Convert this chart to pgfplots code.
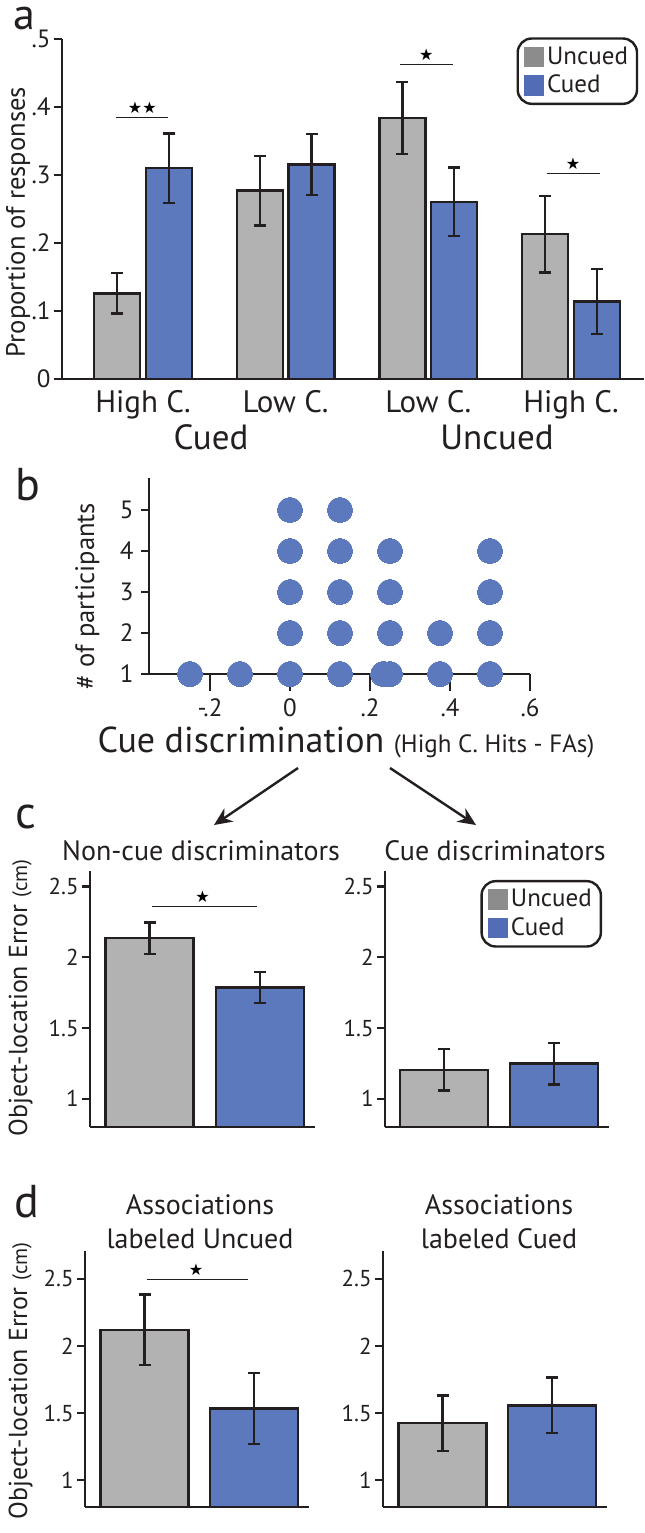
\documentclass[border=0pt]{standalone}
\usepackage{fontspec}
\setmainfont{PT Sans}
\newfontfamily\symfont{DejaVu Sans}
\usepackage{pgfplots}
\pgfplotsset{compat=1.18}
\usetikzlibrary{arrows.meta}

\definecolor{cgray}{RGB}{178,178,178}
\definecolor{cblue}{RGB}{93,121,189}
\definecolor{lgray}{RGB}{140,140,140}
\definecolor{lblue}{RGB}{82,108,181}
\definecolor{cdark}{RGB}{35,31,32}

\newcommand{\fs}[2]{\fontsize{#1}{#2}\selectfont}
\newcommand{\st}[1]{{\symfont\fontsize{8}{9}\selectfont #1}}

\tikzset{sig/.style={cdark, line width=0.6pt}}
\pgfplotsset{
  base/.style={
    scale only axis, anchor=south west,
    axis x line*=bottom, axis y line*=left,
    axis line style={-, cdark, line width=1.2pt},
    every tick/.style={cdark, line width=1.2pt},
    tick align=outside, major tick length=4pt, tick pos=left,
    yticklabel style={inner xsep=1.5pt, text=cdark},
    xticklabel style={text=cdark},
  },
  barst/.style={draw=cdark, line width=1.2pt, fill=#1,
    error bars/y dir=both, error bars/y explicit,
    error bars/error bar style={cdark, line width=1.2pt},
    error bars/error mark options={rotate=90, mark size=3pt, cdark, line width=1.2pt}},
  leg/.style={legend style={at={#1}, anchor=north east, draw=cdark, line width=1.2pt,
     rounded corners=7pt, font=\fs{12.5}{14}, inner xsep=3pt, inner ysep=3pt,
     row sep=2pt, nodes={inner xsep=1.5pt, inner ysep=1pt, text=cdark}},
     legend cell align=left},
  swg/.style={legend image code/.code={\fill[lgray, sharp corners] (0pt,-4.5pt) rectangle (9pt,4.5pt);}},
  swb/.style={legend image code/.code={\fill[lblue, sharp corners] (0pt,-4.5pt) rectangle (9pt,4.5pt);}},
}

% panel a: bars of each pair sit at group index -0.182 (Uncued) and +0.182 (Cued)
\pgfplotstableread{
x       y       e
-0.182  0.126   0.0295
0.818   0.277   0.051
1.818   0.384   0.053
2.818   0.213   0.0565
}\aUncued
\pgfplotstableread{
x       y       e
0.182   0.310   0.051
1.182   0.3155  0.0445
2.182   0.2605  0.0505
3.182   0.114   0.048
}\aCued

\begin{document}
\begin{tikzpicture}
\useasboundingbox (0pt,0pt) rectangle (322pt,-766.5pt);

% ---------------- panel a
\begin{axis}[base, at={(31pt,-189.5pt)}, width=291pt, height=170pt,
  xmin=-0.568, xmax=3.512, ymin=0, ymax=0.5, clip=false,
  bar width=23pt,
  xtick={0,1,2,3}, xticklabels={High C.,Low C.,Low C.,High C.},
  xtick style={draw=none},
  xticklabel style={font=\fs{15.5}{18}, yshift=2pt},
  ytick={0,0.1,0.2,0.3,0.4,0.5}, yticklabels={0,.1,.2,.3,.4,.5},
  yticklabel style={font=\fs{12.5}{14}},
  leg={(0.99,1.005)}]
\addlegendimage{swg}\addlegendentry{Uncued}
\addlegendimage{swb}\addlegendentry{Cued}
\addplot[forget plot, ybar, bar shift=0pt, barst=cgray] table[x=x, y=y, y error=e] {\aUncued};
\addplot[forget plot, ybar, bar shift=0pt, barst=cblue] table[x=x, y=y, y error=e] {\aCued};
\draw[sig] (axis cs:-0.19,0.385) -- (axis cs:0.175,0.385);
\node[inner sep=0] at (axis cs:-0.005,0.399) {\st{★★}};
\draw[sig] (axis cs:1.80,0.463) -- (axis cs:2.17,0.463);
\node[inner sep=0] at (axis cs:1.985,0.477) {\st{★}};
\draw[sig] (axis cs:2.83,0.302) -- (axis cs:3.20,0.302);
\node[inner sep=0] at (axis cs:3.015,0.3165) {\st{★}};
\end{axis}

% ---------------- panel b
\begin{axis}[base, at={(74.5pt,-337pt)}, width=190.5pt, height=98pt,
  xmin=-0.3525, xmax=0.6, ymin=1, ymax=5.78, clip=false,
  xtick={-0.2,0,0.2,0.4,0.6}, xticklabels={-.2,0,.2,.4,.6},
  xtick style={draw=none},
  xticklabel style={font=\fs{12.5}{14}, yshift=-5pt},
  ytick={1,2,3,4,5}, yticklabels={1,2,3,4,5},
  yticklabel style={font=\fs{12.5}{14}, inner xsep=3.5pt}]
\pgfplotsinvokeforeach{-0.2,0,0.2,0.4,0.6}{\draw[cdark, line width=1.2pt] (axis cs:#1,1) -- ++(0pt,-8.5pt);}
\addplot[only marks, mark=*, mark size=6.3pt, color=cblue, mark options={fill=cblue, draw=cblue, line width=0pt}] coordinates {
 (-0.25,1) (-0.125,1)
 (0,1) (0,2) (0,3) (0,4) (0,5)
 (0.125,1) (0.125,2) (0.125,3) (0.125,4) (0.125,5)
 (0.233,1)
 (0.25,1) (0.25,2) (0.25,3) (0.25,4)
 (0.375,1) (0.375,2)
 (0.5,1) (0.5,2) (0.5,3) (0.5,4)};
\end{axis}

% ---------------- panel c left
\begin{axis}[base, at={(45pt,-563.5pt)}, width=112.5pt, height=128pt,
  xmin=0.46, xmax=2.5, ymin=0.8, ymax=2.61, xtick=\empty,
  ytick={1,1.5,2,2.5}, yticklabels={1,1.5,2,2.5},
  yticklabel style={font=\fs{11.5}{13}}, bar width=44pt]
\addplot[ybar, bar shift=0pt, barst=cgray] coordinates {(1,2.135) +- (0,0.11)};
\addplot[ybar, bar shift=0pt, barst=cblue] coordinates {(2,1.786) +- (0,0.109)};
\draw[sig] (axis cs:1.02,2.359) -- (axis cs:1.97,2.359);
\node[inner sep=0] at (axis cs:1.48,2.43) {\st{★}};
\end{axis}

% ---------------- panel c right
\begin{axis}[base, at={(192.5pt,-563.5pt)}, width=112pt, height=128pt,
  xmin=0.46, xmax=2.5, ymin=0.8, ymax=2.61, xtick=\empty,
  ytick={1,1.5,2,2.5}, yticklabels={1,1.5,2,2.5},
  yticklabel style={font=\fs{11.5}{13}}, bar width=44pt,
  leg={(0.969,0.965)}]
\addlegendimage{swg}\addlegendentry{Uncued}
\addlegendimage{swb}\addlegendentry{Cued}
\addplot[forget plot, ybar, bar shift=0pt, barst=cgray] coordinates {(1,1.205) +- (0,0.147)};
\addplot[forget plot, ybar, bar shift=0pt, barst=cblue] coordinates {(2,1.248) +- (0,0.146)};
\end{axis}

% ---------------- panel d left
\begin{axis}[base, at={(42.5pt,-753.5pt)}, width=112pt, height=128pt,
  xmin=0.457, xmax=2.5, ymin=0.8, ymax=2.707, xtick=\empty,
  ytick={1,1.5,2,2.5}, yticklabels={1,1.5,2,2.5},
  yticklabel style={font=\fs{11.5}{13}}, bar width=44pt]
\addplot[ybar, bar shift=0pt, barst=cgray] coordinates {(1,2.12) +- (0,0.264)};
\addplot[ybar, bar shift=0pt, barst=cblue] coordinates {(2,1.534) +- (0,0.265)};
\draw[sig] (axis cs:1.02,2.496) -- (axis cs:1.94,2.496);
\node[inner sep=0] at (axis cs:1.47,2.568) {\st{★}};
\end{axis}

% ---------------- panel d right
\begin{axis}[base, at={(191.5pt,-753.5pt)}, width=112pt, height=128pt,
  xmin=0.457, xmax=2.5, ymin=0.8, ymax=2.707, xtick=\empty,
  ytick={1,1.5,2,2.5}, yticklabels={1,1.5,2,2.5},
  yticklabel style={font=\fs{11.5}{13}}, bar width=44pt]
\addplot[ybar, bar shift=0pt, barst=cgray] coordinates {(1,1.424) +- (0,0.207)};
\addplot[ybar, bar shift=0pt, barst=cblue] coordinates {(2,1.557) +- (0,0.207)};
\end{axis}

% ---------------- annotations
\begin{scope}[x=0.5pt, y=-0.5pt, every node/.style={text=cdark, inner sep=0}]
\node[anchor=base west, font=\fs{22}{26}] at (13,29) {a};
\node[anchor=base west, font=\fs{23}{28}] at (15,500) {b};
\node[anchor=base west, font=\fs{23}{28}] at (15,828) {c};
\node[anchor=base west, font=\fs{23}{28}] at (14,1217) {d};
\node[anchor=base, font=\fs{17.5}{21}] at (211,449) {Cued};
\node[anchor=base, font=\fs{17.5}{21}] at (497,449) {Uncued};
\node[anchor=base, rotate=90, font=\fs{13.3}{16}] at (25,222) {Proportion of responses};
\node[anchor=base, rotate=90, font=\fs{13.3}{16}] at (94,596) {\# of participants};
\node[anchor=base, font=\fs{18}{21}] at (346,752) {Cue discrimination {\fs{12.5}{14}(High C. Hits - FAs)}};
\draw[cdark, line width=1.2pt, -{Stealth[length=9pt, width=8pt]}] (298,768) -- (214,825);
\draw[cdark, line width=1.2pt, -{Stealth[length=9pt, width=8pt]}] (390,768) -- (476,825);
\node[anchor=base, font=\fs{14}{17}] at (201,860) {Non-cue discriminators};
\node[anchor=base, font=\fs{14}{17}] at (495,860) {Cue discriminators};
\node[anchor=base, rotate=90, font=\fs{13}{15}] at (27,998) {Object-location Error {\fs{10.5}{12}(cm)}};
\node[anchor=base, font=\fs{14}{17}] at (200,1214) {Associations};
\node[anchor=base, font=\fs{14}{17}] at (200,1248) {labeled Uncued};
\node[anchor=base, font=\fs{14}{17}] at (499,1214) {Associations};
\node[anchor=base, font=\fs{14}{17}] at (499,1248) {labeled Cued};
\node[anchor=base, rotate=90, font=\fs{13}{15}] at (27,1381) {Object-location Error {\fs{10.5}{12}(cm)}};
\end{scope}
\end{tikzpicture}
\end{document}
